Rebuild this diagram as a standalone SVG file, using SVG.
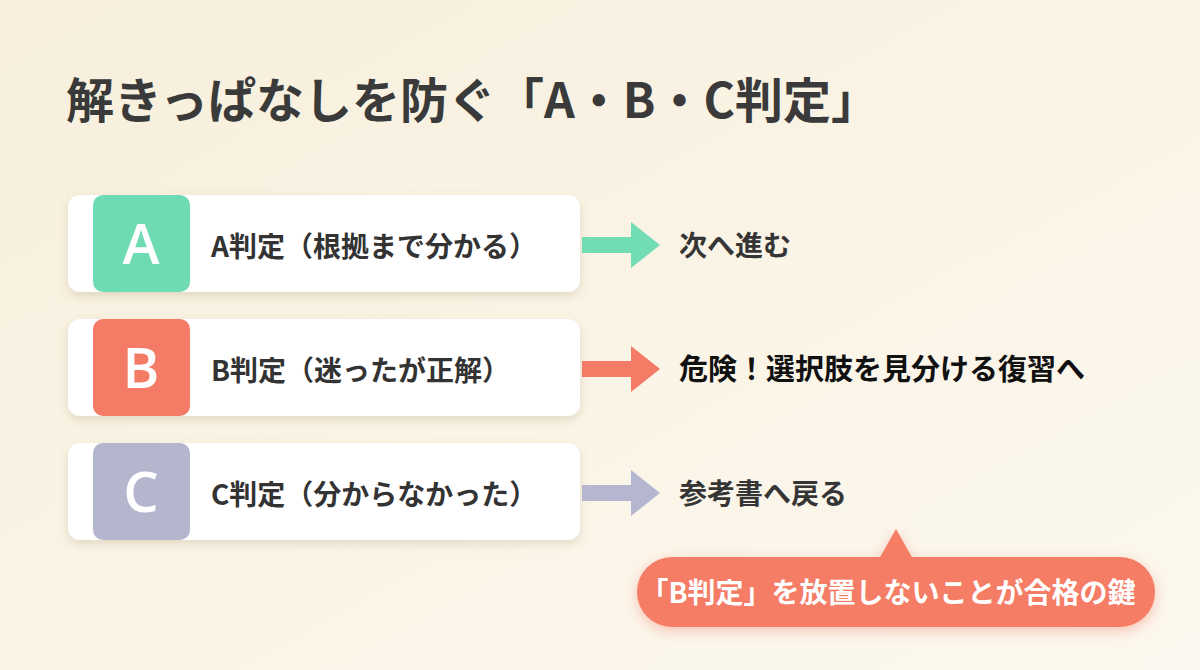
<svg xmlns="http://www.w3.org/2000/svg" width="1200" height="670" viewBox="0 0 1200 670">
  <defs>
    <linearGradient id="bg" x1="0" y1="0" x2="1" y2="1">
      <stop offset="0" stop-color="#f7efdc"/>
      <stop offset="0.6" stop-color="#fbf5e8"/>
      <stop offset="1" stop-color="#fcf8ef"/>
    </linearGradient>
    <filter id="shadow" x="-10%" y="-20%" width="120%" height="150%">
      <feDropShadow dx="0" dy="4" stdDeviation="5" flood-color="#8a7350" flood-opacity="0.22"/>
    </filter>
    <filter id="glow" x="-10%" y="-40%" width="120%" height="190%">
      <feDropShadow dx="0" dy="4" stdDeviation="7" flood-color="#f2826c" flood-opacity="0.45"/>
    </filter>
    <style>
      .jp { font-family: "Noto Sans CJK JP", "Noto Sans", sans-serif; font-weight: 700; }
      .title { font-size: 48px; fill: #3a3a3a; }
      .card { fill: #ffffff; }
      .label { font-size: 28px; fill: #333333; }
      .letter { font-family: "Open Sans", "Noto Sans", sans-serif; font-weight: 600; font-size: 56px; fill: #ffffff; text-anchor: middle; }
      .out { font-size: 28px; fill: #353535; }
      .outb { font-size: 29px; fill: #111111; }
      .note { font-size: 28px; fill: #ffffff; text-anchor: middle; }
    </style>
  </defs>

  <rect x="0" y="0" width="1200" height="670" fill="url(#bg)"/>

  <text class="jp title" x="66" y="118">解きっぱなしを防ぐ「A・B・C判定」</text>

  <g id="node-a">
    <rect class="card" x="68" y="195" width="512" height="97" rx="12" filter="url(#shadow)"/>
    <rect x="93" y="195" width="97" height="97" rx="10" fill="#6fdbb2"/>
    <text class="letter" x="141" y="264">A</text>
    <text class="jp label" x="211" y="257">A判定（根拠まで分かる）</text>
  </g>

  <g id="node-b">
    <rect class="card" x="68" y="319" width="512" height="97" rx="12" filter="url(#shadow)"/>
    <rect x="93" y="319" width="97" height="97" rx="10" fill="#f47b65"/>
    <text class="letter" x="141" y="388">B</text>
    <text class="jp label" x="211" y="381">B判定（迷ったが正解）</text>
  </g>

  <g id="node-c">
    <rect class="card" x="68" y="443" width="512" height="97" rx="12" filter="url(#shadow)"/>
    <rect x="93" y="443" width="97" height="97" rx="10" fill="#b3b6cc"/>
    <text class="letter" x="141" y="512">C</text>
    <text class="jp label" x="211" y="505">C判定（分からなかった）</text>
  </g>

  <g id="connectors">
    <polygon points="582,237 631,237 631,222 660,245 631,268 631,253 582,253" fill="#72dcb5"/>
    <polygon points="582,361 631,361 631,346 660,369 631,392 631,377 582,377" fill="#f47b65"/>
    <polygon points="582,485 631,485 631,470 660,493 631,516 631,501 582,501" fill="#b4b7cf"/>
  </g>

  <g id="out-a"><text class="jp out" x="679" y="256">次へ進む</text></g>
  <g id="out-b"><text class="jp outb" x="679" y="380">危険！選択肢を見分ける復習へ</text></g>
  <g id="out-c"><text class="jp out" x="679" y="504">参考書へ戻る</text></g>

  <g id="callout">
    <g filter="url(#glow)">
      <rect x="637" y="557" width="518" height="70" rx="35" fill="#f57b65"/>
      <polygon points="879,559 896,529 913,559" fill="#f57b65"/>
    </g>
    <text class="jp note" x="888" y="603">「B判定」を放置しないことが合格の鍵</text>
  </g>
</svg>
